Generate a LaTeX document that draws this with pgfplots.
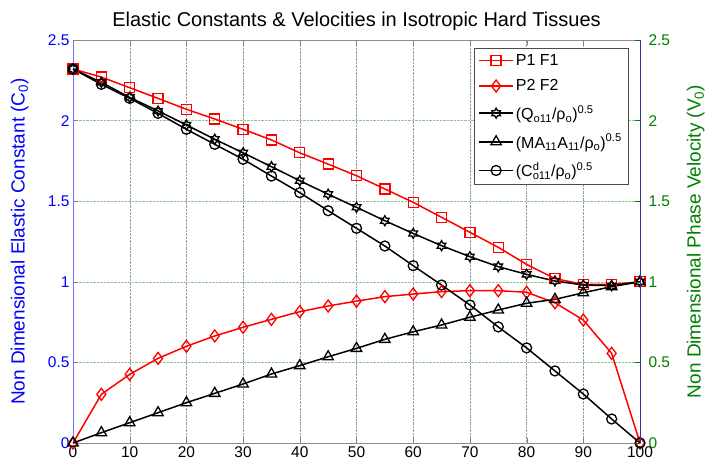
\documentclass[border=0pt]{standalone}
\usepackage{pgfplots}
\pgfplotsset{compat=1.18}
\usepackage{fontspec}
\setmainfont{Liberation Sans}
\definecolor{mblue}{RGB}{0,0,255}
\definecolor{mgreen}{RGB}{0,128,0}
\definecolor{mred}{RGB}{255,0,0}
\pgfdeclareplotmark{hexagram}{%
  \pgfpathmoveto{\pgfpointpolar{90}{\pgfplotmarksize}}%
  \pgfpathlineto{\pgfpointpolar{120}{0.577\pgfplotmarksize}}%
  \pgfpathlineto{\pgfpointpolar{150}{\pgfplotmarksize}}%
  \pgfpathlineto{\pgfpointpolar{180}{0.577\pgfplotmarksize}}%
  \pgfpathlineto{\pgfpointpolar{210}{\pgfplotmarksize}}%
  \pgfpathlineto{\pgfpointpolar{240}{0.577\pgfplotmarksize}}%
  \pgfpathlineto{\pgfpointpolar{270}{\pgfplotmarksize}}%
  \pgfpathlineto{\pgfpointpolar{300}{0.577\pgfplotmarksize}}%
  \pgfpathlineto{\pgfpointpolar{330}{\pgfplotmarksize}}%
  \pgfpathlineto{\pgfpointpolar{0}{0.577\pgfplotmarksize}}%
  \pgfpathlineto{\pgfpointpolar{30}{\pgfplotmarksize}}%
  \pgfpathlineto{\pgfpointpolar{60}{0.577\pgfplotmarksize}}%
  \pgfpathclose\pgfusepathqstroke}
\pgfplotstableread{
x  pa    pb    q     ma    cd
0  2.32  0.00  2.32  0.000 2.32
5  2.27  0.302 2.237 0.064 2.225
10 2.204 0.426 2.144 0.126 2.138
15 2.138 0.525 2.06  0.188 2.045
20 2.07  0.600 1.973 0.250 1.946
25 2.01  0.664 1.884 0.308 1.853
30 1.946 0.718 1.800 0.366 1.760
35 1.88  0.767 1.714 0.428 1.656
40 1.80  0.815 1.627 0.480 1.553
45 1.73  0.850 1.543 0.535 1.441
50 1.658 0.880 1.462 0.587 1.332
55 1.576 0.908 1.379 0.643 1.222
60 1.493 0.924 1.300 0.690 1.100
65 1.400 0.939 1.224 0.732 0.980
70 1.307 0.945 1.156 0.780 0.856
75 1.214 0.945 1.094 0.825 0.720
80 1.108 0.935 1.046 0.867 0.590
85 1.020 0.870 1.005 0.891 0.447
90 0.984 0.763 0.980 0.932 0.304
95 0.984 0.556 0.976 0.970 0.149
100 1.00 0.00  1.000 1.000 0.000
}\datatab
\begin{document}
\begin{tikzpicture}
\begin{axis}[
  scale only axis, width=567pt, height=403pt,
  xmin=0, xmax=100, ymin=0, ymax=2.5,
  xtick={0,10,...,100}, ytick={0,0.5,...,2.5},
  /pgf/number format/assume math mode=true,
  tick label style={font=\fontsize{15.5}{15.5}\selectfont},
  yticklabel style={mblue},
  ytick pos=left, xtick pos=both, tick align=inside,
  major tick length=5pt,
  separate axis lines,
  x axis line style={black!45, line width=0.8pt},
  y axis line style={mblue!55, line width=0.8pt},
  xmajorgrids, ymajorgrids,
  x grid style={densely dotted, black!40},
  y grid style={densely dotted, mgreen!45!white},
  title={Elastic Constants \& Velocities in Isotropic Hard Tissues},
  title style={font=\fontsize{20}{20}\selectfont, yshift=0pt},
  ylabel={Non Dimensional Elastic Constant (C\textsubscript{0})},
  ylabel style={mblue, font=\fontsize{19}{19}\selectfont, at={(axis description cs:-0.094,0.5)}, anchor=center},
  legend style={at={(1,1)}, anchor=north east, xshift=-12pt, yshift=-8pt,
    font=\fontsize{16}{16}\selectfont, draw=black!70, row sep=9pt, inner sep=4pt},
  legend cell align=left,
  legend image code/.code={\draw[mark repeat=2,mark phase=2] plot coordinates {(0pt,0pt)(17pt,0pt)(34pt,0pt)};},
  every axis plot/.append style={line width=1.5pt, mark options={solid, line width=1.3pt, fill=none}},
]
\addplot[mred, mark=square, mark size=5pt] table[x=x,y=pa]{\datatab};
\addlegendentry{P1 F1}
\addplot[mred, mark=diamond, mark size=6pt] table[x=x,y=pb]{\datatab};
\addlegendentry{P2 F2}
\addplot[black, mark=hexagram, mark size=5pt] table[x=x,y=q]{\datatab};
\addlegendentry{(Q\textsubscript{o11}/ρ\textsubscript{o})\textsuperscript{0.5}}
\addplot[black, mark=triangle, mark size=6pt] table[x=x,y=ma]{\datatab};
\addlegendentry{(MA\textsubscript{11}A\textsubscript{11}/ρ\textsubscript{o})\textsuperscript{0.5}}
\addplot[black, mark=o, mark size=5pt] table[x=x,y=cd]{\datatab};
\addlegendentry{(C\rlap{\textsuperscript{d}}\textsubscript{o11}/ρ\textsubscript{o})\textsuperscript{0.5}}
\end{axis}
\begin{axis}[
  scale only axis, width=567pt, height=403pt,
  xmin=0, xmax=100, ymin=0, ymax=2.5,
  ytick={0,0.5,...,2.5},
  /pgf/number format/assume math mode=true,
  axis x line=none, axis y line*=right,
  y axis line style={-, black!40!blue!60!gray, line width=0.8pt},
  tick align=inside, major tick length=5pt,
  ytick style={mgreen},
  tick label style={font=\fontsize{15.5}{15.5}\selectfont},
  yticklabel style={mgreen, xshift=5pt},
  ylabel={Non Dimensional Phase Velocity (V\textsubscript{0})},
  ylabel style={mgreen, font=\fontsize{19}{19}\selectfont, at={(axis description cs:1.098,0.5)}, anchor=center},
]
\end{axis}
\pgfresetboundingbox
\useasboundingbox (-73pt,-31pt) rectangle (641pt,443pt);
\end{tikzpicture}
\end{document}
